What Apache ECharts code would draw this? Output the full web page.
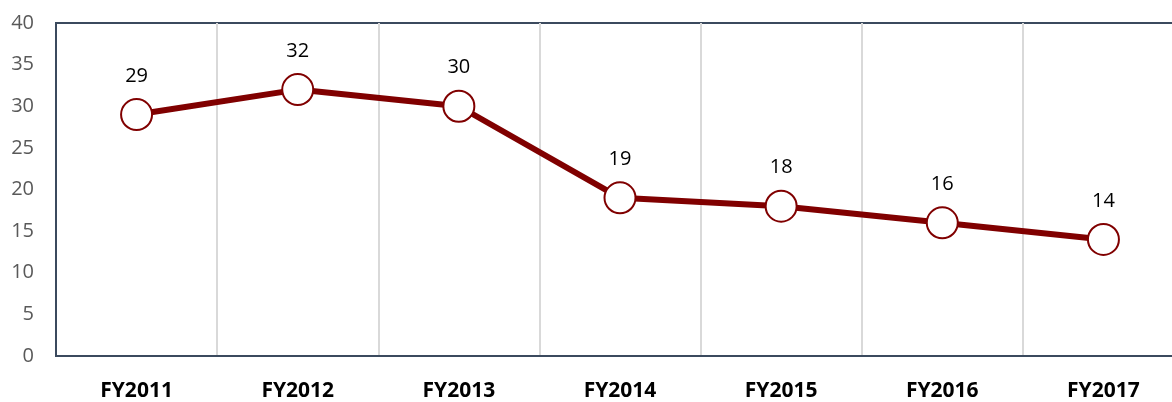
<!DOCTYPE html>
<html><head><meta charset="utf-8">
<script src="https://cdn.jsdelivr.net/npm/echarts@6/dist/echarts.min.js"></script>
<style>html,body{margin:0;padding:0;background:#fff}#c{width:1172px;height:402px}</style>
</head><body><div id="c"></div>
<script>
const categories = ['FY2011','FY2012','FY2013','FY2014','FY2015','FY2016','FY2017'];
const values = [29, 32, 30, 19, 18, 16, 14];
const yTicks = {min: 0, max: 40, interval: 5};

const chart = echarts.init(document.getElementById('c'));
chart.setOption({
  animation: false,
  grid: {left: 56, width: 1128, top: 23, bottom: 46, outerBoundsMode: 'none', show: true, borderColor: '#3b4a5e', borderWidth: 2, backgroundColor: 'transparent'},
  xAxis: {
    type: 'category', data: categories, boundaryGap: true,
    axisLine: {lineStyle: {color: '#3b4a5e', width: 2}},
    axisTick: {show: false},
    splitLine: {show: true, lineStyle: {color: '#d9d9d9', width: 2}},
    axisLabel: {color: '#000', fontWeight: 'bold', fontSize: 21, fontFamily: 'Open Sans', margin: 25}
  },
  yAxis: {
    type: 'value', min: yTicks.min, max: yTicks.max, interval: yTicks.interval,
    axisLine: {show: true, lineStyle: {color: '#3b4a5e', width: 2}},
    axisTick: {show: false},
    splitLine: {show: false},
    axisLabel: {color: '#595959', fontSize: 20, fontFamily: 'Open Sans', margin: 22}
  },
  series: [{
    type: 'line', data: values,
    lineStyle: {color: '#800000', width: 6},
    symbol: 'circle', symbolSize: 31,
    itemStyle: {color: '#fff', borderColor: '#800000', borderWidth: 2},
    label: {show: true, position: 'top', distance: 12, color: '#000', fontSize: 20, fontFamily: 'Open Sans'}
  }]
});
</script></body></html>
